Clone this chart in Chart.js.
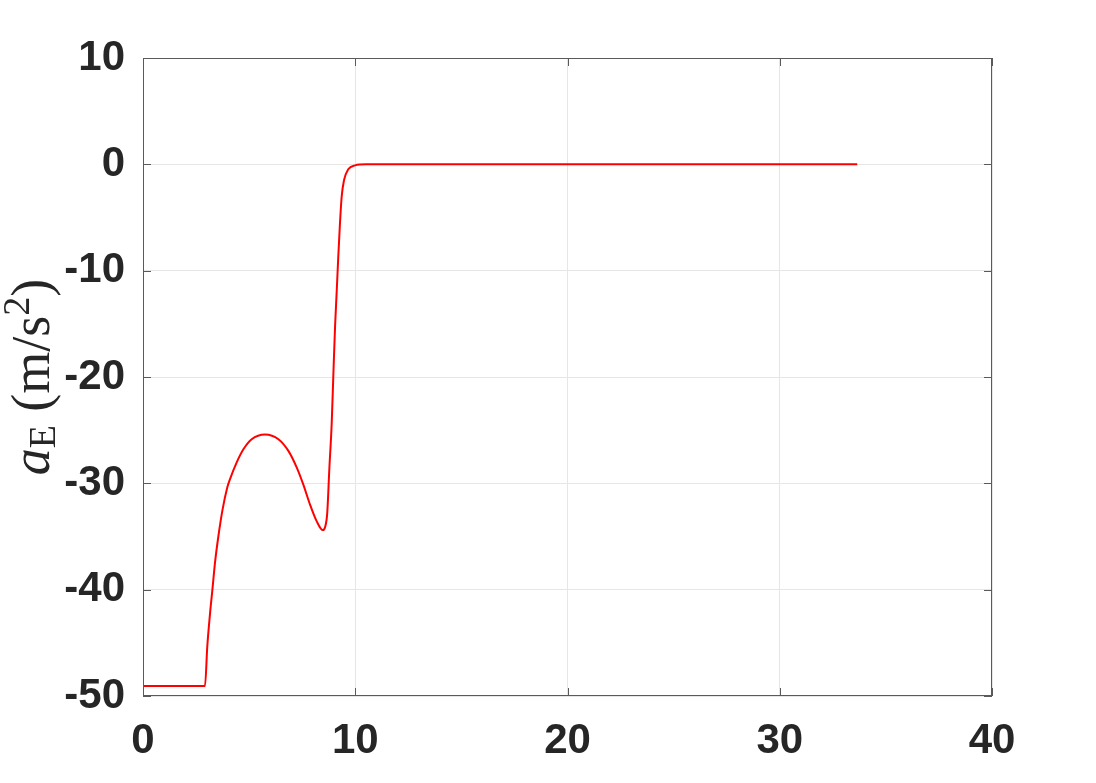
<!DOCTYPE html>
<html>
<head>
<meta charset="utf-8">
<script src="https://cdn.jsdelivr.net/npm/chart.js@4"></script>
<style>
  html, body { margin: 0; padding: 0; background: #fff; }
  #wrap { width: 1096px; height: 783px; }
</style>
</head>
<body>
<div id="wrap"><canvas id="accelChart" width="1096" height="783"></canvas></div>
<script>
// time (s) and east acceleration (m/s^2)
const timeS = [0, 2.92, 3.03, 3.16, 3.27, 3.39, 3.55, 3.75, 3.97, 4.10, 4.41, 4.73, 5.12, 5.75, 6.38,
  6.85, 7.24, 7.55, 7.87, 8.18, 8.47, 8.58, 8.68, 8.78, 8.89, 8.97, 9.05, 9.13, 9.2, 9.28, 9.36,
  9.47, 9.67, 9.99, 10.5, 33.65];
const accelE = [-49.05, -49.05, -45.3, -42.2, -40.0, -37.5, -35.0, -32.45, -30.4, -29.6, -28.05, -26.8, -25.85, -25.4, -25.85,
  -26.95, -28.5, -30.1, -32.0, -33.55, -34.4, -34.1, -32.8, -28.6, -24.4, -19.7, -15.2, -11.8, -8.7, -5.55, -3.05,
  -1.5, -0.47, -0.1, 0, 0];

const xTicks = [0, 10, 20, 30, 40];
const yTicks = [-50, -40, -30, -20, -10, 0, 10];

const axisColor = '#5a5a5a';
const labelColor = '#262626';

// box round the plot area plus inward tick marks on all four sides
const boxPlugin = {
  id: 'box',
  afterDraw(chart) {
    const { ctx, chartArea: a, scales } = chart;
    ctx.save();
    ctx.strokeStyle = axisColor;
    ctx.lineWidth = 1;
    ctx.strokeRect(a.left + 0.5, a.top + 0.5, a.right - a.left - 1, a.bottom - a.top - 1);
    const len = 8;
    ctx.beginPath();
    xTicks.forEach(v => {
      const x = Math.round(scales.x.getPixelForValue(v)) + 0.5;
      ctx.moveTo(x, a.bottom); ctx.lineTo(x, a.bottom - len);
      ctx.moveTo(x, a.top); ctx.lineTo(x, a.top + len);
    });
    yTicks.forEach(v => {
      const y = Math.round(scales.y.getPixelForValue(v)) + 0.5;
      ctx.moveTo(a.left, y); ctx.lineTo(a.left + len, y);
      ctx.moveTo(a.right, y); ctx.lineTo(a.right - len, y);
    });
    ctx.stroke();
    ctx.restore();
  }
};

// y axis title: a_E (m/s^2) in math style
const yTitlePlugin = {
  id: 'yTitle',
  afterDraw(chart) {
    const { ctx, chartArea: a } = chart;
    const big = '54px "Liberation Serif"';
    const small = '38px "Liberation Serif"';
    const parts = [
      { t: 'a', font: 'italic ' + big, dy: 0 },
      { t: 'E', font: small, dy: 6 },
      { t: ' ', font: big, dy: 0 },
      { t: '(m/s', font: big, dy: 0 },
      { t: '2', font: small, dy: -20 },
      { t: ')', font: big, dy: 0 }
    ];
    ctx.save();
    let total = 0;
    parts.forEach(p => { ctx.font = p.font; p.w = ctx.measureText(p.t).width; total += p.w; });
    ctx.translate(49, (a.top + a.bottom) / 2);
    ctx.rotate(-Math.PI / 2);
    ctx.fillStyle = labelColor;
    ctx.textBaseline = 'alphabetic';
    let x = -total / 2;
    parts.forEach(p => {
      ctx.font = p.font;
      ctx.fillText(p.t, x, p.dy);
      x += p.w;
    });
    ctx.restore();
  }
};

const ctx = document.getElementById('accelChart');
new Chart(ctx, {
  type: 'line',
  data: {
    datasets: [{
      data: timeS.map((t, i) => ({ x: t, y: accelE[i] })),
      borderColor: '#ff0000',
      borderWidth: 2,
      pointRadius: 0,
      fill: false,
      cubicInterpolationMode: 'monotone'
    }]
  },
  options: {
    responsive: false,
    animation: false,
    layout: { padding: { left: 0, top: 58, right: 104, bottom: 0 } },
    plugins: { legend: { display: false }, tooltip: { enabled: false } },
    scales: {
      x: {
        type: 'linear',
        min: 0, max: 40,
        afterFit: s => { s.height = 87; },
        afterBuildTicks: s => { s.ticks = xTicks.map(v => ({ value: v })); },
        grid: { color: '#e6e6e6', drawTicks: false },
        border: { display: false },
        ticks: {
          color: labelColor,
          padding: 20,
          maxRotation: 0,
          font: { family: '"Liberation Sans", Arial, sans-serif', size: 42, weight: 'bold' }
        }
      },
      y: {
        min: -50, max: 10,
        afterFit: s => { s.width = 143; },
        afterBuildTicks: s => { s.ticks = yTicks.map(v => ({ value: v })); },
        grid: { color: '#e6e6e6', drawTicks: false },
        border: { display: false },
        ticks: {
          color: labelColor,
          padding: 18,
          font: { family: '"Liberation Sans", Arial, sans-serif', size: 42, weight: 'bold' }
        }
      }
    }
  },
  plugins: [boxPlugin, yTitlePlugin]
});
</script>
</body>
</html>
